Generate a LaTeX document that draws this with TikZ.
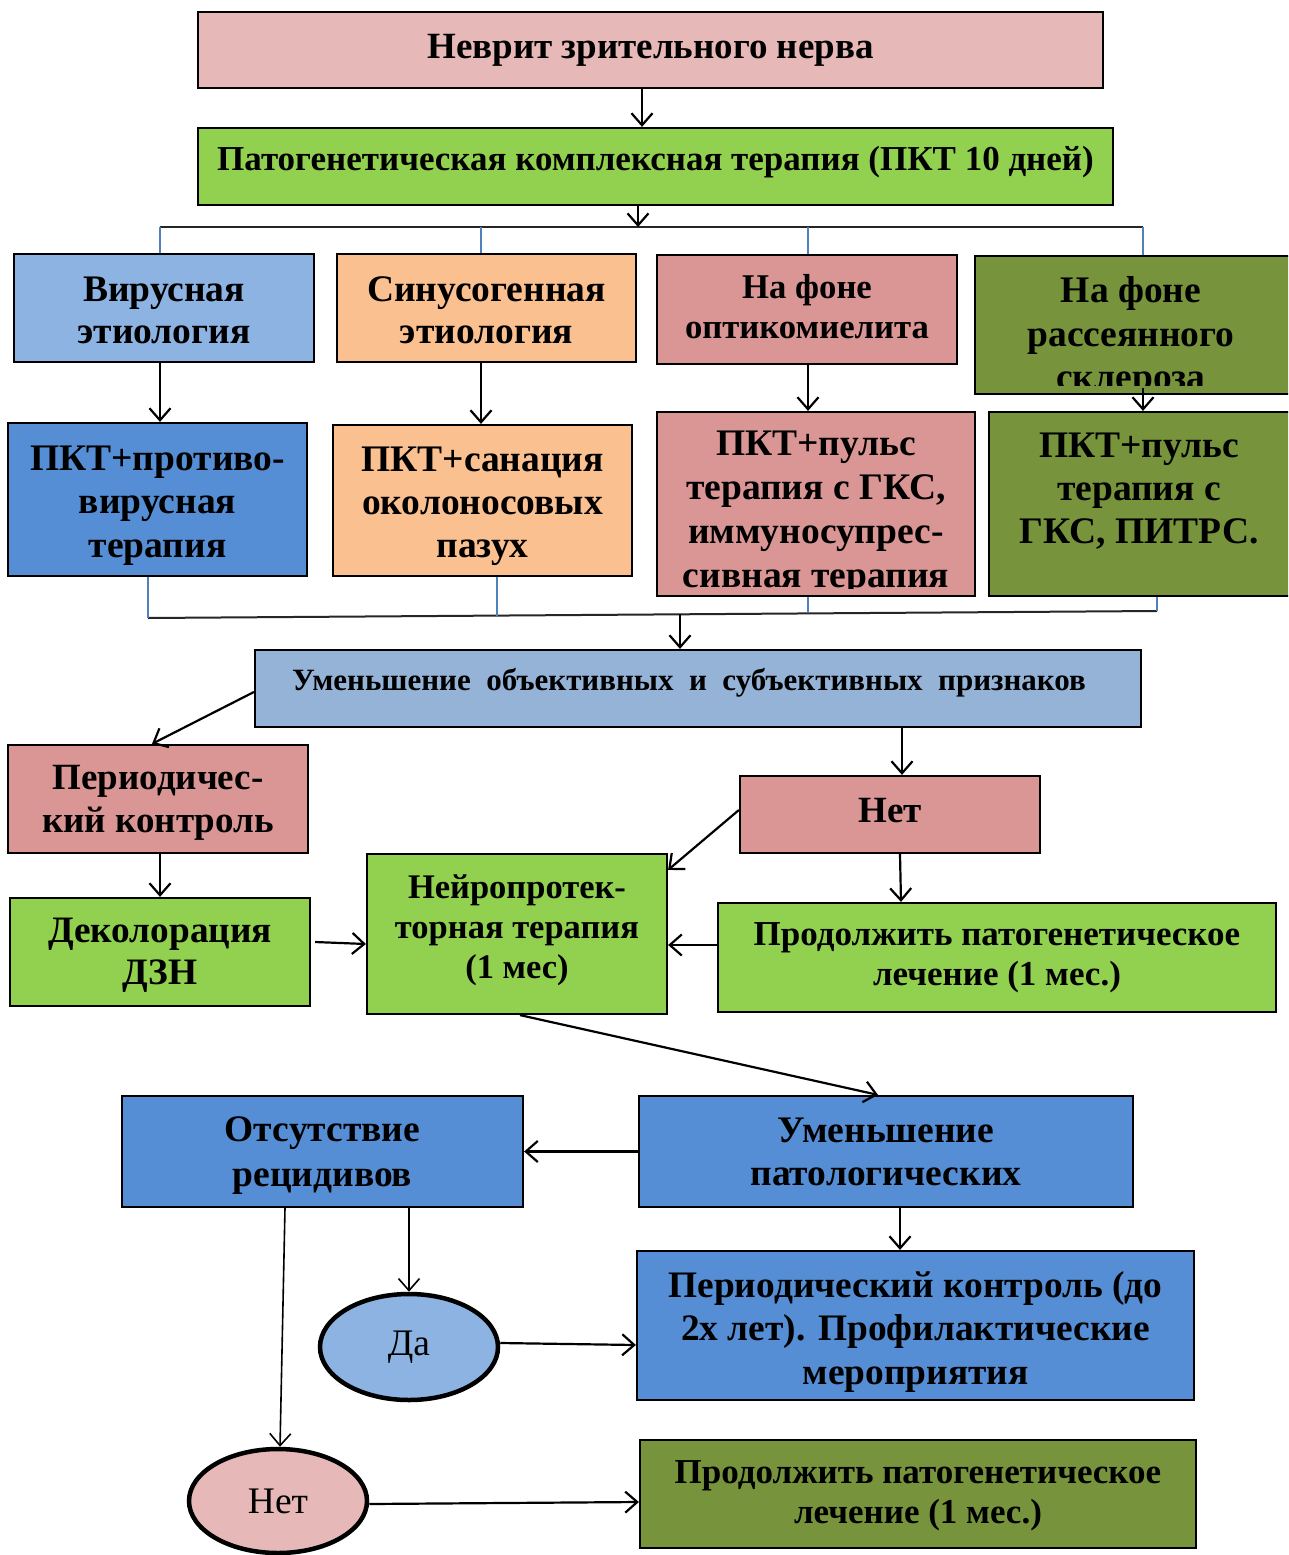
\documentclass[tikz,border=0pt]{standalone}
\usepackage{fontspec}
\setmainfont{Liberation Serif}
\usetikzlibrary{arrows.meta,shapes.geometric}
\definecolor{cpink}{HTML}{E6B8B7}
\definecolor{cgreen}{HTML}{92D050}
\definecolor{clblue}{HTML}{8DB3E2}
\definecolor{cpeach}{HTML}{FAC090}
\definecolor{crose}{HTML}{D99694}
\definecolor{colive}{HTML}{77933C}
\definecolor{cblue}{HTML}{558ED5}
\definecolor{cgrey}{HTML}{95B3D7}
\definecolor{ctick}{HTML}{4F81BD}
\tikzset{
  box/.style={draw=black, line width=2.2pt, inner sep=0pt},
  txt/.style={align=center, inner sep=0pt},
  fs/.style 2 args={font=\bfseries\fontsize{#1}{#2}\selectfont},
  nfs/.style 2 args={font=\fontsize{#1}{#2}\selectfont},
  oval/.style={ellipse, draw=black, line width=4.5pt, inner sep=0pt},
  arr/.style={-{Straight Barb[length=12pt,width=21pt]}, line width=2.2pt},
  tick/.style={draw=ctick, line width=1.4pt},
  busline/.style={draw=black!85, line width=2pt},
}
\begin{document}
\begin{tikzpicture}[x=1pt,y=-1pt]
\useasboundingbox (0,0) rectangle (1288,1555);
\clip (0,0) rectangle (1288,1555);
\fill[white] (0,0) rectangle (1288,1555);

% top
\node[box, fill=cpink, minimum width=905, minimum height=76] (title) at (650.5,50) {};
\node[txt, fs={37}{42}] at (title.center) {Неврит зрительного нерва};
\node[box, fill=cgreen, minimum width=915, minimum height=77] (pkt) at (655.5,166.5) {};
\node[txt, fs={35}{40}] at ([yshift=4]pkt.center) {Патогенетическая комплексная терапия (ПКТ 10 дней)};

% row 1
\node[box, fill=clblue, minimum width=300, minimum height=108] (vir) at (164,308) {};
\node[txt, fs={37.5}{42}] at ([yshift=-2]vir.center) {Вирусная\\этиология};
\node[box, fill=cpeach, minimum width=299, minimum height=108] (sin) at (486.5,308) {};
\node[txt, fs={37.5}{42}] at ([yshift=-2]sin.center) {Синусогенная\\этиология};
\node[box, fill=crose, minimum width=300, minimum height=109] (opt) at (807,309.5) {};
\node[txt, fs={34.7}{40}] at ([yshift=3]opt.center) {На фоне\\оптикомиелита};
\node[box, fill=colive, minimum width=325, minimum height=138] (ras) at (1137.5,325) {};
\begin{scope}
\clip (975,256) rectangle (1300,385);
\node[txt, fs={37.5}{43.5}] at (1131,337) {На фоне\\рассеянного\\склероза};
\end{scope}

% row 2
\node[box, fill=cblue, minimum width=299, minimum height=153] (pvir) at (157.5,499.5) {};
\node[txt, fs={37.5}{43.5}] at ([yshift=-6]pvir.center) {ПКТ+противо-\\вирусная\\терапия};
\node[box, fill=cpeach, minimum width=299, minimum height=151] (psin) at (482.5,500.5) {};
\node[txt, fs={37.5}{43}] at ([yshift=-6]psin.center) {ПКТ+санация\\околоносовых\\пазух};
\node[box, fill=crose, minimum width=318, minimum height=184] (popt) at (816,504) {};
\begin{scope}
\clip (657,412) rectangle (975,588);
\node[txt, fs={37.5}{44}] at (816,513) {ПКТ+пульс\\терапия с ГКС,\\иммуносупрес-\\сивная терапия};
\end{scope}
\node[box, fill=colive, minimum width=311, minimum height=184] (pras) at (1144.5,504) {};
\node[txt, fs={37.5}{43}] at (1139,491.5) {ПКТ+пульс\\терапия с\\ГКС, ПИТРС.};

% middle
\node[box, fill=cgrey, minimum width=886, minimum height=77] (umen) at (698,688.5) {};
\node[txt, fs={31}{36}] at ([xshift=-9,yshift=6]umen.center) {Уменьшение\ \ объективных\ \ и\ \ субъективных\ \ признаков};
\node[box, fill=crose, minimum width=300, minimum height=108] (per) at (158,799) {};
\node[txt, fs={37}{43}] at ([yshift=-4]per.center) {Периодичес-\\кий контроль};
\node[box, fill=crose, minimum width=300, minimum height=77] (net) at (890,814.5) {};
\node[txt, fs={37}{42}] at ([yshift=4]net.center) {Нет};
\node[box, fill=cgreen, minimum width=300, minimum height=108] (dek) at (160,952) {};
\node[txt, fs={37.3}{42}] at ([yshift=-3.5]dek.center) {Деколорация\\ДЗН};
\node[box, fill=cgreen, minimum width=300, minimum height=160] (neuro) at (517,934) {};
\node[txt, fs={34.5}{40}] at ([yshift=4]neuro.center) {Нейропротек-\\торная терапия\\(1 мес)};
\node[box, fill=cgreen, minimum width=558, minimum height=109] (prod) at (997,957.5) {};
\node[txt, fs={35}{40}] at (prod.center) {Продолжить патогенетическое\\лечение (1 мес.)};

% bottom
\node[box, fill=cblue, minimum width=401, minimum height=111] (ots) at (322.5,1151.5) {};
\node[txt, fs={37.5}{45}] at ([yshift=-4.5]ots.center) {Отсутствие\\рецидивов};
\node[box, fill=cblue, minimum width=494, minimum height=111] (umpat) at (886,1151.5) {};
\node[txt, fs={37.5}{43}] at (umpat.center) {Уменьшение\\патологических};
\node[box, fill=cblue, minimum width=557, minimum height=149] (perc) at (915.5,1325.5) {};
\node[txt, fs={37.4}{43.5}] at ([yshift=-6]perc.center) {Периодический контроль (до\\2х лет). Профилактические\\мероприятия};
\node[oval, fill=clblue, minimum width=178, minimum height=106, nfs={37.5}{40}] (da) at (409,1347) {Да};
\node[oval, fill=cpink, minimum width=178, minimum height=104, nfs={37.5}{40}] (net2) at (278,1501) {Нет};
\node[box, fill=colive, minimum width=556, minimum height=108] (prod2) at (918,1494) {};
\node[txt, fs={35}{40}] at ([yshift=-2]prod2.center) {Продолжить патогенетическое\\лечение (1 мес.)};

% connectors top
\draw[arr] ([xshift=-8.5]title.south) -- ([xshift=-13.5]pkt.north);
\coordinate (b1) at (160,227);
\coordinate (bm) at (638,227);
\coordinate (b4) at (1143,227);
\draw[busline] (b1) -- (b4);
\draw[arr] ([xshift=-17.5]pkt.south) -- (bm);
\draw[tick] (b1) -- (b1 |- vir.north);
\draw[tick] (481,227) -- ([xshift=-5.5]sin.north);
\draw[tick] (808,227) -- ([xshift=1]opt.north);
\draw[tick] (b4) -- (b4 |- ras.north);

\draw[arr] ([xshift=-4]vir.south) -- ([xshift=2.5]pvir.north);
\draw[arr] ([xshift=-5.5]sin.south) -- ([xshift=-1.5]psin.north);
\draw[arr] ([xshift=1]opt.south) -- ([xshift=-8]popt.north);
\draw[arr] ([xshift=5.5,yshift=7]ras.south) -- ([xshift=-1.5]pras.north);

% bottom bus
\coordinate (d1) at (148,618);
\coordinate (d2) at (497,615.6);
\coordinate (d3) at (808,613.4);
\coordinate (d4) at (1157,611);
\coordinate (dm) at (680,614.3);
\draw[busline] (d1) -- (d4);
\draw[tick] ([xshift=-9.5]pvir.south) -- (d1);
\draw[tick] ([xshift=14.5]psin.south) -- (d2);
\draw[tick] ([xshift=-8]popt.south) -- (d3);
\draw[tick] ([xshift=12.5]pras.south) -- (d4);
\draw[arr] (dm) -- ([xshift=-18]umen.north);

% middle connectors
\draw[arr] ([yshift=-3.5]umen.west) -- ([xshift=-6]per.north);
\draw[arr] ([xshift=204]umen.south) -- ([xshift=12]net.north);
\draw[arr] ([yshift=4.5]net.west) -- ([yshift=-17]neuro.north east);
\draw[arr] ([xshift=10]net.south) -- ([xshift=-96]prod.north);
\draw[arr] ([xshift=2]per.south) -- (dek.north);
\draw[arr] ([xshift=4,yshift=10]dek.east) -- ([yshift=-10]neuro.west);
\draw[arr] ([yshift=12.5]prod.west) -- ([yshift=-11]neuro.east);
\draw[arr] ([xshift=3]neuro.south) -- ([xshift=-8]umpat.north);

% bottom connectors
\draw[arr] (umpat.west) -- (ots.east);
\draw[arr] ([xshift=14]umpat.south) -- ([xshift=-15.5]perc.north);
\draw[arr, line width=1.6pt] ([xshift=86.5]ots.south) -- (da.north);
\draw[arr] ([yshift=4]da.east) -- ([yshift=-19.5]perc.west);
\draw[arr, line width=1.6pt] ([xshift=-37.5]ots.south) -- ([xshift=2]net2.north);
\draw[arr] ([yshift=-3]net2.east) -- ([yshift=-8]prod2.west);
\end{tikzpicture}
\end{document}
